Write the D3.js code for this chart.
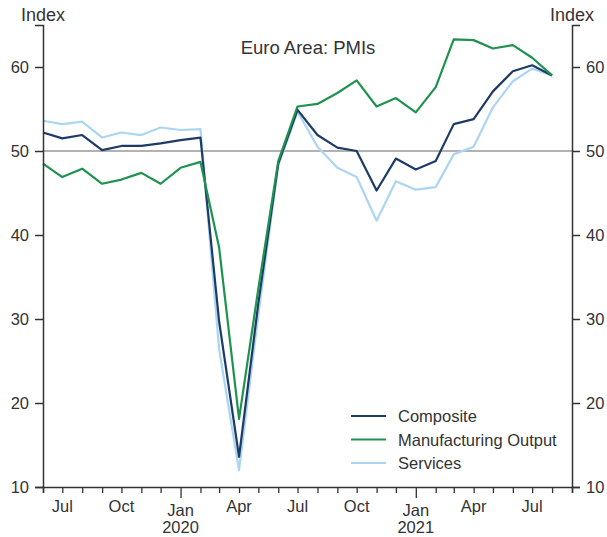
<!DOCTYPE html>
<html>
<head>
<meta charset="utf-8">
<script src="https://cdn.jsdelivr.net/npm/d3@7"></script>
<style>
  body { margin: 0; background: #fff; }
  text { font-family: "Liberation Sans", Arial, sans-serif; fill: #333; }
</style>
</head>
<body>
<script>
// monthly PMI readings, Jun 2019 - Aug 2021
let months = ["2019-06", "2019-07", "2019-08", "2019-09", "2019-10", "2019-11", "2019-12",
    "2020-01", "2020-02", "2020-03", "2020-04", "2020-05", "2020-06", "2020-07", "2020-08",
    "2020-09", "2020-10", "2020-11", "2020-12", "2021-01", "2021-02", "2021-03", "2021-04",
    "2021-05", "2021-06", "2021-07", "2021-08"];

let composite = [52.2, 51.5, 51.9, 50.1, 50.6, 50.6, 50.9, 51.3, 51.6, 29.7, 13.6, 31.9, 48.5,
    54.9, 51.9, 50.4, 50.0, 45.3, 49.1, 47.8, 48.8, 53.2, 53.8, 57.1, 59.5, 60.2, 59.0];
let manufacturing = [48.5, 46.9, 47.9, 46.1, 46.6, 47.4, 46.1, 48.0, 48.7, 38.5, 18.1, 33.6, 48.8,
    55.3, 55.6, 56.9, 58.4, 55.3, 56.3, 54.6, 57.6, 63.3, 63.2, 62.2, 62.6, 61.1, 59.0];
let services = [53.6, 53.2, 53.5, 51.6, 52.2, 51.9, 52.8, 52.5, 52.6, 26.4, 12.0, 30.5, 48.3,
    54.7, 50.5, 48.0, 46.9, 41.7, 46.4, 45.4, 45.7, 49.6, 50.5, 55.2, 58.3, 59.8, 59.0];

let yTicks = [10, 20, 30, 40, 50, 60];
let seriesNames = ["Composite", "Manufacturing Output", "Services"];

let width = 607,
    height = 537;

let svg = d3.select("body").append("svg")
    .attr("width", width).attr("height", height);

let parse = d3.utcParse("%Y-%m");
let dates = months.map(parse);

let x = d3.scaleUtc()
    .domain([parse("2019-06"), parse("2021-09")])
    .range([43, 572]);
let y = d3.scaleLinear()
    .domain([10, 65])
    .range([487, 25]);

// 50 reference line
svg.append("line")
    .attr("x1", x.range()[0]).attr("x2", x.range()[1])
    .attr("y1", y(50)).attr("y2", y(50))
    .attr("stroke", "#999").attr("stroke-width", 1.5);

// series lines
let colors = { "Composite": "#1d3b66", "Manufacturing Output": "#1f9250", "Services": "#abd6f3" };
let values = { "Composite": composite, "Manufacturing Output": manufacturing, "Services": services };

let line = d3.line()
    .x((d, i) => x(dates[i]))
    .y((d) => y(d));

["Services", "Composite", "Manufacturing Output"].forEach((name) => {
    svg.append("path")
        .attr("d", line(values[name]))
        .attr("fill", "none")
        .attr("stroke", colors[name])
        .attr("stroke-width", 2.2)
        .attr("stroke-linejoin", "round");
});

// y axes
let leftAxis = svg.append("g").attr("transform", `translate(${x.range()[0]},0)`)
    .call(d3.axisLeft(y).tickValues(yTicks).tickSize(8).tickPadding(6));
let rightAxis = svg.append("g").attr("transform", `translate(${x.range()[1]},0)`)
    .call(d3.axisRight(y).tickValues(yTicks).tickSize(8).tickPadding(6));

[leftAxis, rightAxis].forEach((g) => {
    g.select(".domain").attr("stroke", "#333").attr("stroke-width", 1.5);
    g.selectAll(".tick line").attr("stroke", "#333").attr("stroke-width", 1.5);
    g.selectAll(".tick text").attr("font-size", 16.5).style("fill", "#333");
    g.attr("font-family", null);
});

// x axis
let xAxis = svg.append("g").attr("transform", `translate(0,${y(10)})`)
    .call(d3.axisBottom(x).ticks(d3.utcMonth.every(1)).tickSize(6).tickFormat(""));
xAxis.select(".domain").attr("stroke", "#333").attr("stroke-width", 1.5);
xAxis.selectAll(".tick line").attr("stroke", "#333").attr("stroke-width", 1.3)
    .attr("y2", (d) => d.getUTCMonth() === 0 ? 11 : 6);

let labelMonths = x.ticks(d3.utcMonth.every(3));
let fmt = d3.utcFormat("%b");
let xl = svg.append("g");
labelMonths.forEach((d) => {
    let t = xl.append("text")
        .attr("x", x(d)).attr("y", y(10) + 25)
        .attr("text-anchor", "middle")
        .attr("font-size", 16.5)
        .text(fmt(d));
    if (d.getUTCMonth() === 0) {
        t.attr("y", y(10) + 29);
        xl.append("text")
            .attr("x", x(d)).attr("y", y(10) + 46)
            .attr("text-anchor", "middle")
            .attr("font-size", 16.5)
            .text(d.getUTCFullYear());
    }
});

// axis titles
svg.append("text").attr("x", x.range()[0]).attr("y", 21)
    .attr("text-anchor", "middle").attr("font-size", 18).text("Index");
svg.append("text").attr("x", x.range()[1]).attr("y", 21)
    .attr("text-anchor", "middle").attr("font-size", 18).text("Index");

// chart title
svg.append("text").attr("x", 308).attr("y", 54)
    .attr("text-anchor", "middle").attr("font-size", 18.5).text("Euro Area: PMIs");

// legend
seriesNames.forEach((name, i) => {
    let ly = 416 + i * 23.5;
    svg.append("line")
        .attr("x1", 351).attr("x2", 386)
        .attr("y1", ly).attr("y2", ly)
        .attr("stroke", colors[name]).attr("stroke-width", 2.2);
    svg.append("text")
        .attr("x", 398).attr("y", ly + 6)
        .attr("font-size", 16.5)
        .text(name);
});
</script>
</body>
</html>
